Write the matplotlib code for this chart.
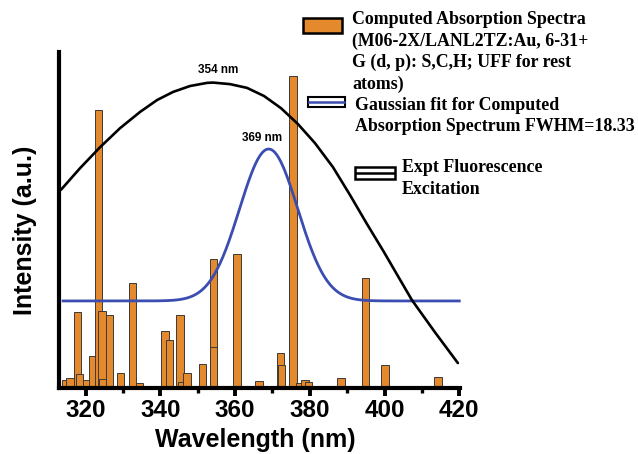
import numpy as np
import matplotlib
matplotlib.use('Agg')
import matplotlib.pyplot as plt
from matplotlib.patches import Rectangle
from matplotlib.lines import Line2D
from matplotlib.ticker import MultipleLocator

# ---------------- data ----------------
# Computed absorption stick spectrum (wavelength in nm, relative intensity)
bar_wavelengths = [314.7, 315.9, 317.8, 318.4, 320.3, 321.9, 323.4, 324.4, 324.6,
                   326.4, 329.4, 332.5, 334.5, 341.3, 342.5, 345.3, 345.7, 347.2,
                   351.3, 354.3, 354.3, 360.5, 366.4, 372.2, 372.4, 375.5, 377.2,
                   378.7, 379.7, 388.3, 394.9, 400.1, 414.3]
bar_intensities = [0.025, 0.032, 0.243, 0.045, 0.025, 0.103, 0.891, 0.247, 0.029,
                   0.234, 0.048, 0.337, 0.016, 0.183, 0.154, 0.234, 0.019, 0.048,
                   0.077, 0.413, 0.131, 0.429, 0.022, 0.112, 0.074, 1.000, 0.016,
                   0.026, 0.019, 0.032, 0.353, 0.074, 0.035]

expt_wavelengths = [313.40, 318.56, 323.90, 329.25, 334.60, 339.14, 343.42, 347.97,
                    352.51, 354.12, 358.66, 363.21, 367.75, 372.30, 376.84, 381.39,
                    386.20, 390.75, 395.29, 399.84, 403.58, 407.33, 413.48, 419.63]
expt_intensities = [0.635, 0.705, 0.772, 0.833, 0.885, 0.923, 0.949, 0.968,
                    0.978, 0.979, 0.974, 0.962, 0.936, 0.897, 0.846, 0.785,
                    0.708, 0.619, 0.526, 0.436, 0.359, 0.282, 0.179, 0.080]

# Gaussian fit (parameters shown on the chart)
gauss_center = 369.0
gauss_fwhm = 18.33
gauss_baseline = 0.279
gauss_amplitude = 0.487
gauss_start, gauss_end = 314.0, 420.0

x_ticks = [320, 340, 360, 380, 400, 420]
x_tick_labels = ['320', '340', '360', '380', '400', '420']

legend_bar_lines = ['Computed Absorption Spectra', '(M06-2X/LANL2TZ:Au, 6-31+',
                    'G (d, p): S,C,H; UFF for rest', 'atoms)']
legend_gauss_lines = ['Gaussian fit for Computed', 'Absorption Spectrum FWHM=18.33']
legend_expt_lines = ['Expt Fluorescence', 'Excitation']

# ---------------- figure ----------------
W, H = 638, 454
fig = plt.figure(figsize=(W / 100, H / 100), dpi=100)
fig.patch.set_facecolor('white')

def fx(px):
    return px / W

def fy(py):
    return 1 - py / H

ax = fig.add_axes([fx(59), fy(388), (460 - 59) / W, (388 - 52) / H])
ax.set_xlim(312.9, 420.2)
ax.set_ylim(0, 1.077)

orange = '#E5892D'
blue = '#3B4DB0'

ax.bar(bar_wavelengths, bar_intensities, width=2.0, color=orange,
       edgecolor='#3a3a3a', linewidth=0.7, zorder=2)

xg = np.linspace(gauss_start, gauss_end, 400)
sigma = gauss_fwhm / (2 * np.sqrt(2 * np.log(2)))
yg = gauss_baseline + gauss_amplitude * np.exp(-0.5 * ((xg - gauss_center) / sigma) ** 2)
ax.plot(xg, yg, color=blue, lw=2.0, zorder=3, clip_on=False)

ax.plot(expt_wavelengths, expt_intensities, color='black', lw=1.9, zorder=4,
        clip_on=False, solid_joinstyle='round', solid_capstyle='round')

# spines / ticks
for s in ['top', 'right']:
    ax.spines[s].set_visible(False)
for s in ['left', 'bottom']:
    ax.spines[s].set_linewidth(3.0)
    ax.spines[s].set_zorder(5)
ax.set_yticks([])
ax.set_xticks(x_ticks)
ax.xaxis.set_minor_locator(MultipleLocator(10))
sans = ['Liberation Sans', 'DejaVu Sans']
ax.set_xticklabels(x_tick_labels, fontsize=17.5, fontweight='bold', family=sans)
ax.tick_params(axis='x', which='major', direction='out', length=6, width=2.8, pad=2)
ax.tick_params(axis='x', which='minor', direction='out', length=3.5, width=2.4)

# axis labels
fig.text(fx(255), fy(440), 'Wavelength (nm)', ha='center', va='center',
         fontsize=18, fontweight='bold', family=sans)
fig.text(fx(25), fy(230), 'Intensity (a.u.)', ha='center', va='center',
         rotation=90, fontsize=18, fontweight='bold', family=sans)

# peak annotations
ax.text(355.5, 1.019, '354 nm', ha='center', va='center', fontsize=8.5,
        fontweight='bold', family=sans, clip_on=False)
ax.text(367.2, 0.801, '369 nm', ha='center', va='center', fontsize=8.5,
        fontweight='bold', family=sans, clip_on=False)

# ---------------- custom legend ----------------
serif = ['Liberation Serif', 'DejaVu Serif']
fs_leg = 12.9

def rect(x0, y0, x1, y1, fc, lw):
    r = Rectangle((fx(x0), fy(y1)), fx(x1) - fx(x0), fy(y0) - fy(y1),
                  transform=fig.transFigure, facecolor=fc, edgecolor='black',
                  linewidth=lw, zorder=10)
    fig.add_artist(r)

rect(303, 18, 342, 33, orange, 1.8)
for i, t in enumerate(legend_bar_lines):
    fig.text(fx(352), fy(20 + 21.3 * i), t, ha='left', va='center',
             fontsize=fs_leg, fontweight='bold', family=serif)

rect(308, 97, 345, 107, 'white', 1.5)
fig.add_artist(Line2D([fx(309), fx(344)], [fy(102), fy(102)], color=blue, lw=1.8,
                      transform=fig.transFigure, zorder=11))
for i, t in enumerate(legend_gauss_lines):
    fig.text(fx(355), fy(105 + 21.3 * i), t, ha='left', va='center',
             fontsize=fs_leg, fontweight='bold', family=serif)

rect(355, 167, 395, 179, 'white', 1.8)
fig.add_artist(Line2D([fx(356), fx(394)], [fy(173), fy(173)], color='black', lw=1.8,
                      transform=fig.transFigure, zorder=11))
for i, t in enumerate(legend_expt_lines):
    fig.text(fx(402), fy(168 + 21.3 * i), t, ha='left', va='center',
             fontsize=fs_leg, fontweight='bold', family=serif)

fig.savefig('out.png', dpi=100, facecolor='white')
